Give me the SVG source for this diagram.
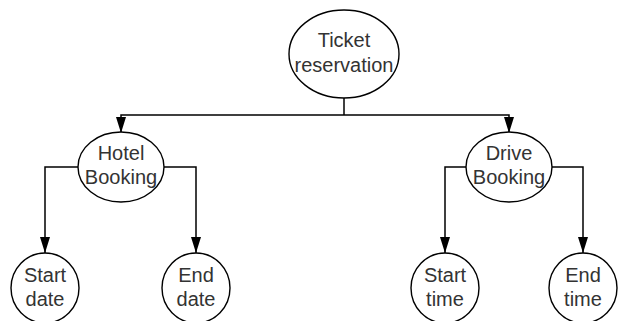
<svg xmlns="http://www.w3.org/2000/svg" width="626" height="321" viewBox="0 0 626 321">
<defs>
<style>
.n ellipse{fill:#fff;stroke:#000;stroke-width:1.4}
.n text{font-family:"Liberation Sans",Arial,sans-serif;font-size:20px;fill:#333;text-anchor:middle}
.c path{fill:none;stroke:#000;stroke-width:1.5}
</style>
<marker id="ah" viewBox="0 0 16 10" refX="16" refY="5" markerWidth="16" markerHeight="10" markerUnits="userSpaceOnUse" orient="auto">
<path d="M0,0 L16,5 L0,10 Z" fill="#000"/>
</marker>
</defs>
<rect width="626" height="321" fill="#fff"/>
<g class="c">
<path d="M344,98 V115"/>
<path d="M344,115 H121 V133" marker-end="url(#ah)"/>
<path d="M344,115 H509 V133" marker-end="url(#ah)"/>
<path d="M78,167 H45 V253" marker-end="url(#ah)"/>
<path d="M164,167 H196 V253" marker-end="url(#ah)"/>
<path d="M467,167 H445 V253" marker-end="url(#ah)"/>
<path d="M552,167 H583 V253" marker-end="url(#ah)"/>
</g>
<g class="n" id="ticket">
<ellipse cx="344" cy="54" rx="55" ry="44"/>
<text x="344" y="47">Ticket</text>
<text x="344" y="72">reservation</text>
</g>
<g class="n" id="hotel">
<ellipse cx="121" cy="167" rx="43" ry="35"/>
<text x="121" y="160">Hotel</text>
<text x="121" y="184">Booking</text>
</g>
<g class="n" id="drive">
<ellipse cx="509" cy="167" rx="43" ry="35"/>
<text x="509" y="160">Drive</text>
<text x="509" y="184">Booking</text>
</g>
<g class="n" id="startdate">
<ellipse cx="45" cy="288" rx="34" ry="35"/>
<text x="45" y="282">Start</text>
<text x="45" y="306">date</text>
</g>
<g class="n" id="enddate">
<ellipse cx="196" cy="288" rx="34" ry="35"/>
<text x="196" y="282">End</text>
<text x="196" y="306">date</text>
</g>
<g class="n" id="starttime">
<ellipse cx="445" cy="288" rx="34" ry="35"/>
<text x="445" y="282">Start</text>
<text x="445" y="306">time</text>
</g>
<g class="n" id="endtime">
<ellipse cx="583" cy="288" rx="34" ry="35"/>
<text x="583" y="282">End</text>
<text x="583" y="306">time</text>
</g>
</svg>
